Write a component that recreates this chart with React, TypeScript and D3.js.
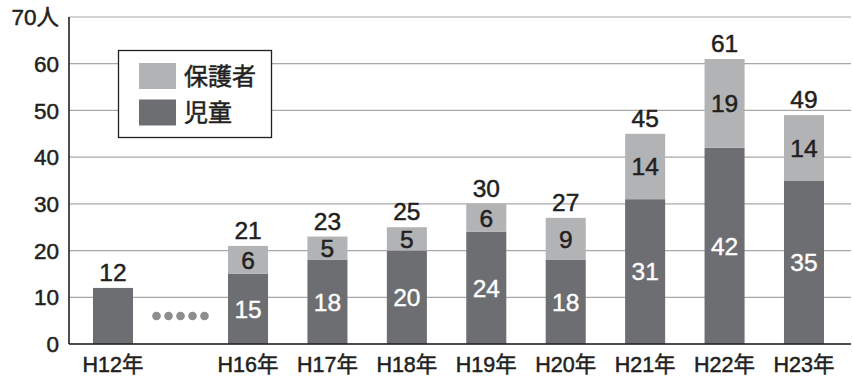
import React from "react";
import * as d3 from "d3";

const categories = ["H12年", "H16年", "H17年", "H18年", "H19年", "H20年", "H21年", "H22年", "H23年"];
const children = [12, 15, 18, 20, 24, 18, 31, 42, 35];
const guardians = [0, 6, 5, 5, 6, 9, 14, 19, 14];
const yTicks = [0, 10, 20, 30, 40, 50, 60];
const yTopLabel = "70人";
const legendLabels = ["保護者", "児童"];

const W = 853;
const H = 378;
const DARK = "#6d6e71";
const LIGHT = "#b2b3b5";
const TEXT = "#231f20";
const FONT = "'Liberation Sans', Arial, 'Noto Sans CJK JP', sans-serif";

export default function App() {
  const left = 69;
  const right = 851;
  const y = d3.scaleLinear().domain([0, 70]).range([344, 17]);
  const later = categories.slice(1);
  const xb = d3
    .scaleBand<string>()
    .domain(later)
    .range([208.3, 843.7])
    .paddingInner(0.496)
    .paddingOuter(0.248);
  const step = xb.step();
  const bw = xb.bandwidth();
  const xLeft = (c: string, i: number) =>
    i === 0 ? (xb(later[0]) as number) - 1.7 * step : (xb(c) as number);
  const gapCenter = (xLeft(categories[0], 0) + bw / 2 + (xb(later[0]) as number) + bw / 2) / 2;
  const dots = d3.range(-2, 3);
  const heavy = { stroke: TEXT, strokeWidth: 0.5 };
  const heavyW = { stroke: "#fff", strokeWidth: 0.4 };

  return (
    <svg
      width={W}
      height={H}
      style={{ position: "absolute", left: 0, top: 0, background: "#fff" }}
      fontFamily={FONT}
    >
      {yTicks.concat([70]).map((t) => (
        <line key={"g" + t} x1={left} x2={right} y1={y(t)} y2={y(t)} stroke="#a8a8a8" strokeWidth={1.2} />
      ))}
      {yTicks.map((t) => (
        <text key={"t" + t} x={59} y={y(t)} dy="0.36em" textAnchor="end" fontSize={22.5} fill={TEXT} {...heavy}>
          {t}
        </text>
      ))}
      <text x={59} y={y(70)} dy="0.36em" textAnchor="end" fontSize={22.5} fill={TEXT} {...heavy}>
        {yTopLabel}
      </text>

      {categories.map((c, i) => {
        const x0 = xLeft(c, i);
        const cx = x0 + bw / 2;
        const ch = children[i];
        const gd = guardians[i];
        const total = ch + gd;
        return (
          <g key={c}>
            <rect x={x0} width={bw} y={y(ch)} height={y(0) - y(ch)} fill={DARK} />
            {gd > 0 && <rect x={x0} width={bw} y={y(total)} height={y(ch) - y(total)} fill={LIGHT} />}
            {gd > 0 && (
              <text x={cx} y={(y(ch) + y(0)) / 2} dy="0.36em" textAnchor="middle" fontSize={24.5} fill="#fff" {...heavyW}>
                {ch}
              </text>
            )}
            {gd > 0 && (
              <text x={cx} y={(y(total) + y(ch)) / 2} dy="0.36em" textAnchor="middle" fontSize={24.5} fill={TEXT} {...heavy}>
                {gd}
              </text>
            )}
            <text x={cx} y={y(total) - 7} textAnchor="middle" fontSize={24.5} fill={TEXT} {...heavy}>
              {total}
            </text>
            <text x={cx} y={372} textAnchor="middle" fontSize={21.5} fill={TEXT} {...heavy}>
              {c}
            </text>
          </g>
        );
      })}

      {dots.map((d) => (
        <circle key={d} cx={gapCenter + d * 12} cy={316} r={4.3} fill="#8c8d8f" />
      ))}

      <line x1={left} x2={left} y1={y(70)} y2={y(0)} stroke={TEXT} strokeWidth={1.6} />
      <line x1={left} x2={right} y1={y(0)} y2={y(0)} stroke={TEXT} strokeWidth={1.6} />

      <g>
        <rect x={118.5} y={50.5} width={153} height={87} fill="#fff" stroke={TEXT} strokeWidth={1.3} />
        <rect x={139} y={63} width={37} height={26} fill={LIGHT} />
        <rect x={139} y={99.5} width={37} height={26} fill={DARK} />
        <text x={184} y={76} dy="0.36em" fontSize={24} fill={TEXT} {...heavy}>
          {legendLabels[0]}
        </text>
        <text x={184} y={112.5} dy="0.36em" fontSize={24} fill={TEXT} {...heavy}>
          {legendLabels[1]}
        </text>
      </g>
    </svg>
  );
}
